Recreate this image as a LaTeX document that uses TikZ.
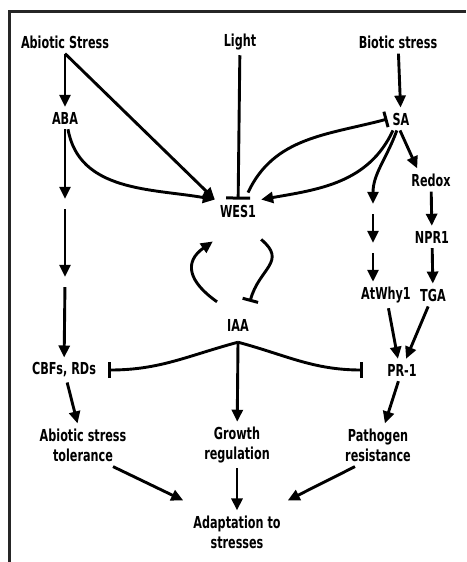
\documentclass[tikz,border=0pt]{standalone}
\usepackage{fontspec}
\setmainfont{DejaVu Sans}[FakeStretch=0.68]
\usetikzlibrary{arrows.meta,positioning}

\begin{document}
\begin{tikzpicture}[
  x=1pt, y=1pt,
  every node/.style={font=\fontsize{16.5}{20}\selectfont\bfseries},
  lab/.style={inner sep=5pt, align=center},
  gap/.style={inner sep=0pt, minimum height=10pt, minimum width=4pt},
  pro/.style={-{Triangle[length=12pt,width=11pt]}, line width=2.9pt},
  inh/.style={-{Bar[width=16pt,line width=3pt]}, line width=2.9pt},
  frame/.style={line width=3pt, black!85}
]
\useasboundingbox (0,0) rectangle (466,-562);
\draw[frame] (9,-562) |- (466,-11);

% inputs
\node[lab] (abs)   at (65,-42)   {Abiotic Stress};
\node[lab] (lig)   at (240,-42)  {Light};
\node[lab] (bio)   at (398,-42)  {Biotic stress};

% hormones and signals
\node[lab] (aba)   at (65,-118)  {ABA};
\node[lab] (sa)    at (401,-119) {SA};
\node[lab] (wes)   at (238,-211) {WES1};
\node[lab] (redox) at (431,-180) {Redox};
\node[lab] (npr)   at (432,-237) {NPR1};
\node[lab] (atw)   at (386,-295) {AtWhy1};
\node[lab] (tga)   at (433,-295) {TGA};
\node[lab] (iaa)   at (238,-325) {IAA};
\node[lab] (cbf)   at (64,-370)  {CBFs, RDs};
\node[lab] (pr)    at (402,-370) {PR-1};

% responses
\node[lab] (ast)   at (83,-445)  {Abiotic stress\\tolerance};
\node[lab] (grw)   at (237,-445) {Growth\\regulation};
\node[lab] (pat)   at (378,-445) {Pathogen\\resistance};
\node[lab] (ada)   at (237,-532) {Adaptation to\\stresses};

% unnamed steps
\node[gap] (c1) at (65,-204)  {};
\node[gap] (c2) at (65,-282)  {};
\node[gap] (d1) at (373,-209) {};
\node[gap] (d2) at (373,-248) {};
\coordinate (fork) at ([yshift=-6pt]iaa.south);

\draw[pro] (abs) -- (aba);
\draw[pro] (abs.south) -- (wes.north west);
\draw[pro] (aba.-75) to[out=-80,in=170] (wes.north west);
\draw[pro] (aba) -- (c1);
\draw[pro] (c1) -- (c2);
\draw[pro] (c2) -- (cbf);
\draw[-{Bar[width=24pt,line width=3pt]}, line width=2.9pt] (lig) -- (wes);

\draw[pro] (bio) -- (sa);
\draw[inh] ([xshift=10pt,yshift=7pt]wes.north) to[out=65,in=195] (sa.west);
\draw[pro] (sa.-125) to[out=-115,in=10] (wes.north east);
\draw[pro] (sa.-110) to[out=-110,in=90] (d1);
\draw[pro] (sa.-95) -- (redox.140);
\draw[pro] (d1) -- (d2);
\draw[pro] (d2) -- (d2 |- atw.north);
\draw[pro] (redox) -- (npr);
\draw[pro] (npr) -- (tga);
\draw[pro] (atw) -- (pr.110);
\draw[pro] (tga) -- (pr.70);

% WES1 / IAA loop
\draw[inh] ([yshift=-17pt]wes.south east) to[out=-40,in=75,looseness=1.4] ([xshift=-4pt,yshift=12pt]iaa.north east);
\draw[pro] ([xshift=-5pt,yshift=12pt]iaa.north west) to[out=145,in=215,looseness=1.5] ([xshift=-2pt,yshift=-19pt]wes.south west);

\draw[inh] (fork) to[out=195,in=0] ([xshift=7pt]cbf.east);
\draw[inh] (fork) to[out=-15,in=180] ([xshift=-19pt]pr.west);
\draw[pro] (fork) -- (grw);

\draw[pro] (cbf) -- (ast);
\draw[pro] (pr) -- (pat);
\draw[pro] ([xshift=30pt]ast.south) -- ([xshift=-5pt,yshift=10pt]ada.north west);
\draw[pro] (grw) -- (ada);
\draw[pro] ([xshift=-23pt]pat.south) -- ([xshift=2pt,yshift=10pt]ada.north east);

\end{tikzpicture}
\end{document}
